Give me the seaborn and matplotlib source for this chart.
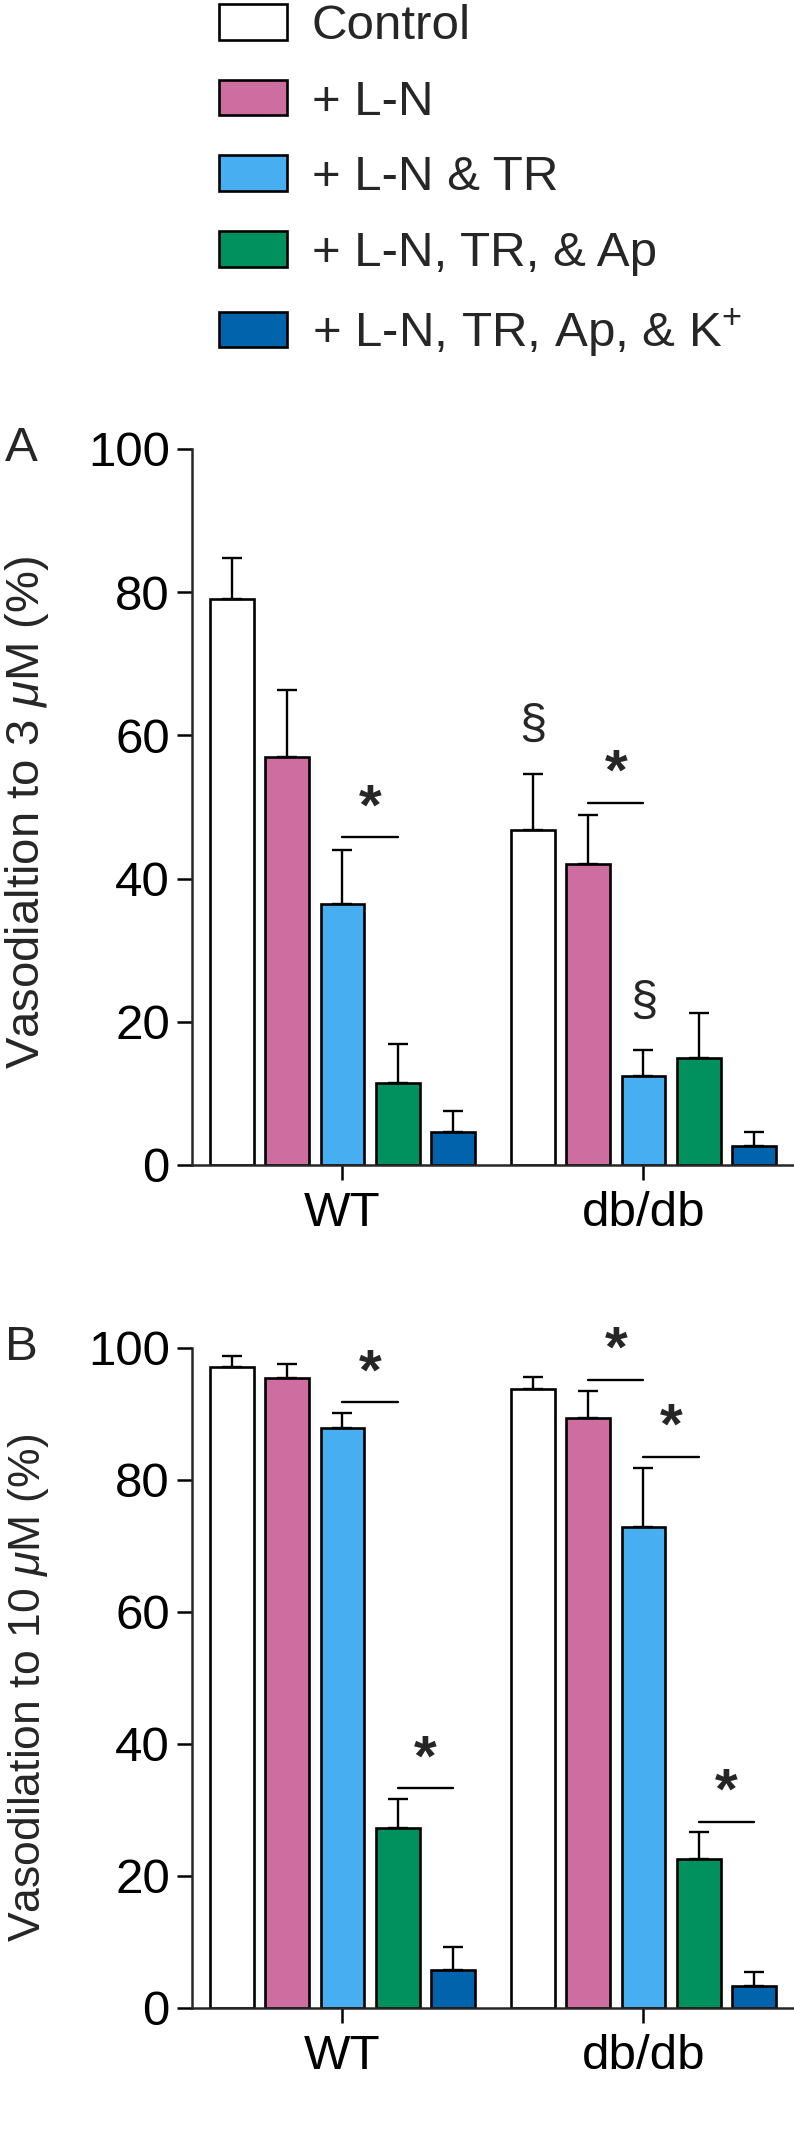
import pandas as pd
import matplotlib
matplotlib.use('Agg')
import matplotlib.pyplot as plt
import seaborn as sns

groups = ['WT', 'db/db']
treatments = ['Control', '+ L-N', '+ L-N & TR', '+ L-N, TR, & Ap',
              '+ L-N, TR, Ap, & K$^{+}$']
colors = ['#FFFFFF', '#CE6DA0', '#47AFF1', '#00915F', '#0063AB']

# panel A (3 uM): one row per treatment, columns WT, db/db
mean_a = [[79.0, 46.8], [57.0, 42.0], [36.4, 12.4], [11.4, 14.9], [4.6, 2.6]]
err_a = [[5.7, 7.8], [9.3, 6.9], [7.6, 3.6], [5.5, 6.3], [2.9, 2.0]]
# panel B (10 uM)
mean_b = [[97.1, 93.8], [95.4, 89.4], [87.9, 72.9], [27.3, 22.5], [5.8, 3.3]]
err_b = [[1.7, 1.8], [2.1, 4.1], [2.2, 8.9], [4.3, 4.1], [3.5, 2.2]]

# significance marks: (group, from bar, to bar, line height)
stars_a = [('WT', 2, 3, 45.8), ('db/db', 1, 2, 50.6)]
stars_b = [('WT', 2, 3, 91.8), ('WT', 3, 4, 33.3), ('db/db', 1, 2, 95.2),
           ('db/db', 2, 3, 83.5), ('db/db', 3, 4, 28.2)]
# section signs: (group, bar, height)
sect_a = [('db/db', 0, 61.4), ('db/db', 2, 22.7)]
sect_b = []

ylabel_a = 'Vasodialtion to 3 $\\mu$M (%)'
ylabel_b = 'Vasodilation to 10 $\\mu$M (%)'

sns.set_style('ticks')
plt.rcParams['font.family'] = ['Liberation Sans', 'DejaVu Sans']
plt.rcParams['mathtext.fontset'] = 'custom'
plt.rcParams['mathtext.rm'] = 'Liberation Sans'
plt.rcParams['mathtext.it'] = 'Liberation Sans:italic'
plt.rcParams['axes.linewidth'] = 1.8

FS = 35.5


def make_df(mean):
    rows = []
    for t, vals in zip(treatments, mean):
        for g, v in zip(groups, vals):
            rows.append({'group': g, 'treatment': t, 'value': v})
    return pd.DataFrame(rows)


def draw_panel(ax, mean, err, stars, sects, ylabel, ylabel_size, ylabel_y,
               legend):
    df = make_df(mean)
    sns.barplot(data=df, x='group', y='value', hue='treatment',
                order=groups, hue_order=treatments, palette=colors,
                width=0.92, gap=0.21, edgecolor='black', linewidth=1.9,
                errorbar=None, saturation=1, legend=legend, ax=ax)
    # bar centres, grouped by category position and sorted left to right
    bars = [p for p in ax.patches if p.get_width() > 0]
    centers = {}
    for j, g in enumerate(groups):
        xs = sorted(p.get_x() + p.get_width() / 2 for p in bars
                    if abs(p.get_x() + p.get_width() / 2 - j) < 0.5)
        for i, x in enumerate(xs):
            centers[(g, i)] = x
            ax.errorbar(x, mean[i][j], yerr=[[0], [err[i][j]]], fmt='none',
                        ecolor='black', elinewidth=1.7, capsize=7,
                        capthick=1.7, zorder=1)
    for g, a, b, h in stars:
        x0, x1 = centers[(g, a)], centers[(g, b)]
        ax.plot([x0, x1], [h, h], color='black', lw=1.7, clip_on=False)
        ax.annotate('*', xy=((x0 + x1) / 2, h), xytext=(0, 20),
                    textcoords='offset points', ha='center', va='center',
                    fontsize=42, fontweight='bold')
    for g, i, h in sects:
        ax.text(centers[(g, i)], h, '\u00a7', ha='center', va='center',
                fontsize=FS)
    ax.set_ylim(0, 100)
    ax.set_xlim(-0.5, 1.5)
    ax.set_yticks([0, 20, 40, 60, 80, 100])
    ax.set_xlabel('')
    ax.set_ylabel(ylabel, fontsize=ylabel_size)
    ax.yaxis.set_label_coords(-0.234, ylabel_y)
    ax.tick_params(axis='both', labelsize=FS, length=11, width=1.8,
                   direction='out', pad=5, colors='black')
    ax.tick_params(axis='x', pad=8)
    sns.despine(ax=ax)


fig = plt.figure(figsize=(7.94, 21.45), dpi=100)
ax_a = fig.add_axes([0.2418, 0.4569, 0.7582, 0.3338])
ax_b = fig.add_axes([0.2418, 0.0639, 0.7582, 0.3077])

draw_panel(ax_a, mean_a, err_a, stars_a, sect_a, ylabel_a, 34, 0.492, True)
draw_panel(ax_b, mean_b, err_b, stars_b, sect_b, ylabel_b, 32, 0.485, False)

handles, labels = ax_a.get_legend_handles_labels()
if ax_a.get_legend() is not None:
    ax_a.get_legend().remove()
fig.legend(handles, labels, loc='upper left', bbox_to_anchor=(0.2758, 0.998),
           frameon=False, fontsize=FS, handlelength=1.38, handleheight=0.73,
           labelspacing=0.62, handletextpad=0.5, borderaxespad=0,
           borderpad=0)

fig.text(0.006, 0.7907, 'A', fontsize=FS, va='center', ha='left')
fig.text(0.006, 0.3716, 'B', fontsize=FS, va='center', ha='left')

fig.savefig('out.png', dpi=100)
